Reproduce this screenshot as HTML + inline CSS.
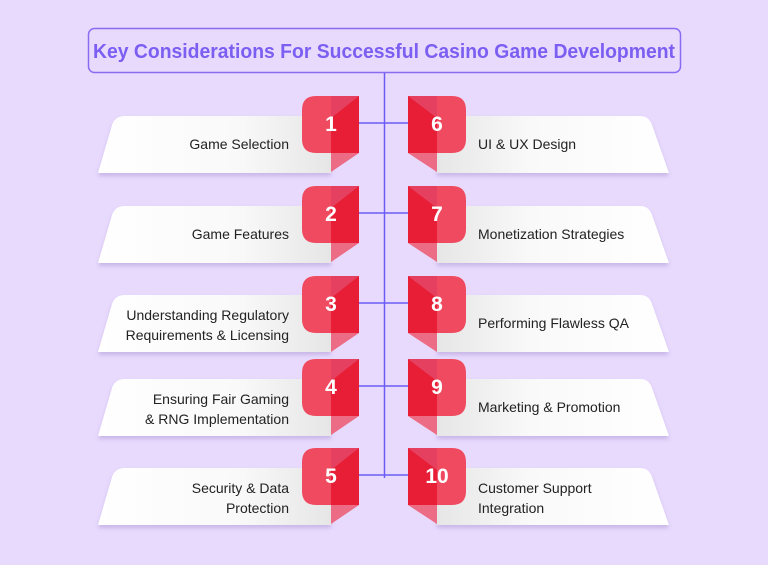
<!DOCTYPE html>
<html><head><meta charset="utf-8"><style>
html,body{margin:0;padding:0;background:#e8dafd;width:768px;height:565px;overflow:hidden}
svg{display:block}
text{font-family:"Liberation Sans",Arial,sans-serif}
</style></head><body>
<svg id="s" width="768" height="565" viewBox="0 0 768 565" xmlns="http://www.w3.org/2000/svg">
<defs>
<linearGradient id="gl" x1="0" x2="1" y1="0" y2="0"><stop offset="0" stop-color="#ffffff"/><stop offset="0.6" stop-color="#f9f9f9"/><stop offset="1" stop-color="#e6e6e6"/></linearGradient>
<linearGradient id="gr" x1="0" x2="1" y1="0" y2="0"><stop offset="0" stop-color="#e6e6e6"/><stop offset="0.4" stop-color="#f9f9f9"/><stop offset="1" stop-color="#ffffff"/></linearGradient>
<filter id="sh" x="-10%" y="-10%" width="120%" height="140%"><feDropShadow dx="0" dy="3" stdDeviation="2" flood-color="#8a70c0" flood-opacity="0.35"/></filter>
</defs>
<rect x="88.5" y="28.5" width="592" height="44" rx="6" fill="none" stroke="#8a6cf2" stroke-width="1.5"/>
<text x="93" y="58" textLength="582" lengthAdjust="spacingAndGlyphs" font-size="20" font-weight="bold" fill="#7b5ef2">Key Considerations For Successful Casino Game Development</text>
<line x1="384.5" y1="73" x2="384.5" y2="478" stroke="#6a5cf5" stroke-width="1.5"/>
<g id="rows"></g>
</svg>
<script>
const rows=[
 [96,116,["Game Selection"],["UI & UX Design"]],
 [186,206,["Game Features"],["Monetization Strategies"]],
 [276,295,["Understanding Regulatory","Requirements & Licensing"],["Performing Flawless QA"]],
 [359,379,["Ensuring Fair Gaming","& RNG Implementation"],["Marketing & Promotion"]],
 [448,468,["Security & Data","Protection"],["Customer Support","Integration"]]
];
let h="";
function txt(lines,x,top,anchor){
 let o="";
 if(lines.length==1){o+=`<text x="${x}" y="${top+33}" font-size="14" fill="#222" text-anchor="${anchor}">${lines[0].replace(/&/g,'&amp;')}</text>`;}
 else lines.forEach((l,i)=>{o+=`<text x="${x}" y="${top+25+i*20}" font-size="14" fill="#222" text-anchor="${anchor}">${l.replace(/&/g,'&amp;')}</text>`;});
 return o;
}
rows.forEach((r,i)=>{
 const bt=r[0],ct=r[1],cb=ct+57,cy=bt+27,bb=bt+57;
 h+=`<line x1="359" y1="${cy}" x2="408" y2="${cy}" stroke="#6a5cf5" stroke-width="1.5"/>`;
 h+=`<path d="M98,${cb} L112,${ct+9} Q115,${ct} 125,${ct} L331,${ct} L331,${cb} Z" fill="url(#gl)" filter="url(#sh)"/>`;
 h+=`<path d="M437,${ct} L640,${ct} Q649,${ct} 652,${ct+9} L669,${cb} L437,${cb} Z" fill="url(#gr)" filter="url(#sh)"/>`;
 h+=txt(r[2],289,ct,"end");
 h+=txt(r[3],478,ct,"start");
 h+=`<polygon points="331,${bb} 359,${bb} 331,${bb+19}" fill="#ec6c85"/>`;
 h+=`<path d="M316,${bt} L331,${bt} L331,${bb} L316,${bb} Q302,${bb} 302,${bb-14} L302,${bt+14} Q302,${bt} 316,${bt} Z" fill="#ef4a5f"/>`;
 h+=`<rect x="331" y="${bt}" width="28" height="57" fill="#e81e37"/>`;
 h+=`<polygon points="331,${bt} 359,${bt} 331,${bt+22}" fill="#e5405f"/>`;
 h+=`<text x="331" y="${bt+35}" font-size="21" font-weight="bold" fill="#fff" text-anchor="middle">${i+1}</text>`;
 h+=`<polygon points="408,${bb} 437,${bb} 437,${bb+19}" fill="#ec6c85"/>`;
 h+=`<path d="M437,${bt} L452,${bt} Q466,${bt} 466,${bt+14} L466,${bb-14} Q466,${bb} 452,${bb} L437,${bb} Z" fill="#ef4a5f"/>`;
 h+=`<rect x="408" y="${bt}" width="29" height="57" fill="#e81e37"/>`;
 h+=`<polygon points="408,${bt} 437,${bt} 437,${bt+22}" fill="#e5405f"/>`;
 h+=`<text x="437" y="${bt+35}" font-size="21" font-weight="bold" fill="#fff" text-anchor="middle">${i+6}</text>`;
});
document.getElementById("rows").innerHTML=h;
</script>
</body></html>
